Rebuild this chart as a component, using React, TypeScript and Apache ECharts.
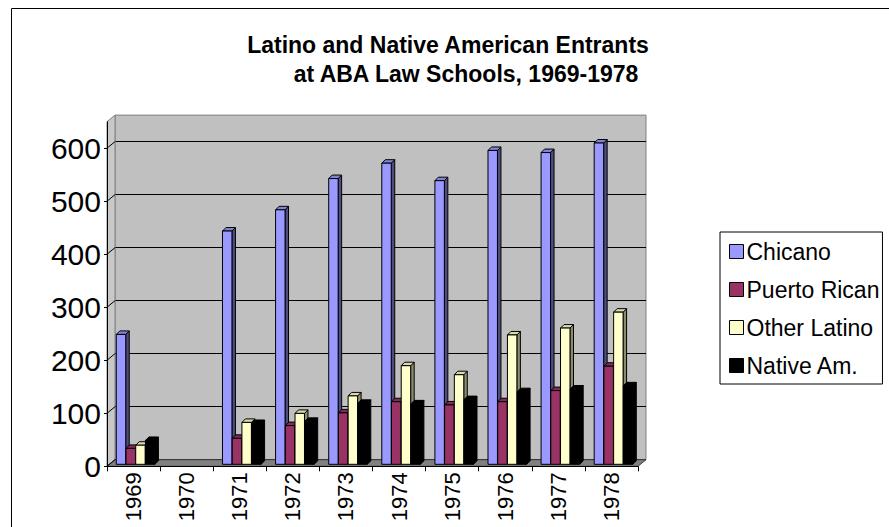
import React, { useEffect, useRef } from "react";
import * as echarts from "echarts";

// Entrants by year and group
const years = ["1969", "1970", "1971", "1972", "1973", "1974", "1975", "1976", "1977", "1978"];
const chicano = [245, null, 440, 480, 539, 568, 535, 592, 588, 606];
const puertoRican = [30, null, 49, 73, 97, 118, 112, 118, 139, 185];
const otherLatino = [36, null, 79, 96, 129, 186, 169, 244, 257, 287];
const nativeAm = [45, null, 77, 81, 115, 114, 122, 137, 142, 148];

const seriesNames = ["Chicano", "Puerto Rican", "Other Latino", "Native Am."];
const seriesValues = [chicano, puertoRican, otherLatino, nativeAm];
const yTicks = [0, 100, 200, 300, 400, 500, 600];
const Y_MAX = 650;

const FONT = '"Liberation Sans", Arial, Helvetica, sans-serif';

const faceColors = ["#9999ff", "#993366", "#ffffcc", "#000000"];
const topColors = ["#8282d9", "#822b57", "#d9d9ad", "#000000"];
const sideColors = ["#4d4d80", "#4d1a33", "#8c8c70", "#000000"];

// plot geometry: front axes plane and the back wall behind it
const FRONT = { left: 107, top: 121.7, width: 531, height: 344.6 };
const DX = 8;
const DY = -6.6;
const BACK = { left: FRONT.left + DX, top: FRONT.top + DY, width: FRONT.width, height: FRONT.height };

const frontY = (v: number) => FRONT.top + FRONT.height * (1 - v / Y_MAX);
const backY = (v: number) => BACK.top + BACK.height * (1 - v / Y_MAX);

const BAR_DEPTH = 3.5;

function makeRenderer(si: number) {
  return (params: any, api: any) => {
    const v = api.value(1);
    if (v == null || isNaN(v)) return null;
    const cat = api.value(0);
    const base = api.coord([cat, 0]);
    const top = api.coord([cat, v]);
    const cw = api.size([1, 0])[0];
    const w = cw * 0.178;
    const x = base[0] - cw * 0.325 + si * cw * 0.183;
    const yb = base[1] - 2;
    const yt = top[1] - 2;
    const d = BAR_DEPTH;
    const stroke = { stroke: "#000", lineWidth: 1 };
    return {
      type: "group",
      children: [
        {
          type: "polygon",
          shape: { points: [[x + w, yt], [x + w + d, yt - d], [x + w + d, yb - d], [x + w, yb]] },
          style: { fill: sideColors[si], ...stroke },
        },
        {
          type: "polygon",
          shape: { points: [[x, yt], [x + d, yt - d], [x + w + d, yt - d], [x + w, yt]] },
          style: { fill: topColors[si], ...stroke },
        },
        {
          type: "rect",
          shape: { x, y: yt, width: w, height: yb - yt },
          style: { fill: faceColors[si], ...stroke },
        },
      ],
    };
  };
}

export default function App() {
  const ref = useRef<HTMLDivElement>(null);

  useEffect(() => {
    if (!ref.current) return;
    const chart = echarts.init(ref.current, undefined, { renderer: "svg" });

    const connectors = yTicks.map((t) => ({
      type: "line",
      z: 2,
      shape: { x1: FRONT.left, y1: frontY(t), x2: BACK.left, y2: backY(t) },
      style: { stroke: "#000", lineWidth: 1 },
    }));

    const frontBottom = FRONT.top + FRONT.height;
    const backBottom = BACK.top + BACK.height;

    chart.setOption({
      animation: false,
      backgroundColor: "#ffffff",
      textStyle: { fontFamily: FONT },
      grid: [
        { left: FRONT.left, top: FRONT.top, width: FRONT.width, height: FRONT.height, show: false, z: 3 },
        {
          left: BACK.left,
          top: BACK.top,
          width: BACK.width,
          height: BACK.height,
          show: true,
          backgroundColor: "#c0c0c0",
          borderColor: "#808080",
          borderWidth: 1,
          z: 0,
        },
      ],
      xAxis: [
        {
          type: "category",
          gridIndex: 0,
          data: years,
          z: 4,
          axisLine: { show: true, lineStyle: { color: "#000", width: 1 } },
          axisTick: { show: true, alignWithLabel: false, length: 5, lineStyle: { color: "#000" } },
          axisLabel: { rotate: 90, fontSize: 22, color: "#000", margin: 6, fontFamily: FONT },
          splitLine: { show: false },
        },
        { type: "category", gridIndex: 1, data: years, show: false },
      ],
      yAxis: [
        {
          type: "value",
          gridIndex: 0,
          min: 0,
          max: Y_MAX,
          interval: 100,
          z: 4,
          axisLine: { show: true, lineStyle: { color: "#000", width: 1 } },
          axisTick: { show: true, length: 3, customValues: yTicks, lineStyle: { color: "#000" } },
          axisLabel: {
            fontSize: 30,
            color: "#000",
            margin: 6,
            fontFamily: FONT,
            customValues: yTicks,
            padding: [9, 0, 0, 0],
          },
          splitLine: { show: false },
        },
        {
          type: "value",
          gridIndex: 1,
          min: 0,
          max: Y_MAX,
          interval: 100,
          axisLine: { show: false },
          axisTick: { show: false },
          axisLabel: { show: false },
          splitLine: { show: true, showMaxLine: false, lineStyle: { color: "#000", width: 1 } },
        },
      ],
      legend: {
        orient: "vertical",
        left: 720,
        top: 232,
        data: seriesNames,
        icon: "rect",
        itemWidth: 14,
        itemHeight: 14,
        itemGap: 15,
        padding: [8, 3, 7, 9],
        borderColor: "#000",
        borderWidth: 1,
        backgroundColor: "#fff",
        selectedMode: false,
        itemStyle: { borderColor: "#000", borderWidth: 1 },
        textStyle: { fontSize: 23, color: "#000", fontFamily: FONT, padding: [0, 0, 0, -2] },
      },
      graphic: [
        {
          type: "rect",
          z: 0,
          silent: true,
          shape: { x: 11.5, y: 8.5, width: 1000, height: 1000 },
          style: { fill: "none", stroke: "#000", lineWidth: 1 },
        },
        {
          type: "text",
          x: 448,
          y: 45,
          style: {
            text: "Latino and Native American Entrants",
            font: `bold 23px ${FONT}`,
            fill: "#000",
            textAlign: "center",
            textVerticalAlign: "middle",
          },
        },
        {
          type: "text",
          x: 466,
          y: 74,
          style: {
            text: "at ABA Law Schools, 1969-1978",
            font: `bold 23px ${FONT}`,
            fill: "#000",
            textAlign: "center",
            textVerticalAlign: "middle",
          },
        },
        // left side wall
        {
          type: "polygon",
          z: 1,
          shape: {
            points: [
              [FRONT.left, FRONT.top],
              [BACK.left, BACK.top],
              [BACK.left, backBottom],
              [FRONT.left, frontBottom],
            ],
          },
          style: { fill: "#c8c8c8", stroke: "#808080", lineWidth: 1 },
        },
        // floor
        {
          type: "polygon",
          z: 1,
          shape: {
            points: [
              [FRONT.left, frontBottom],
              [FRONT.left + FRONT.width, frontBottom],
              [BACK.left + BACK.width, backBottom],
              [BACK.left, backBottom],
            ],
          },
          style: { fill: "#808080", stroke: "#404040", lineWidth: 1 },
        },
        ...connectors,
      ],
      series: seriesNames.map((name, si) => ({
        name,
        type: "custom",
        xAxisIndex: 0,
        yAxisIndex: 0,
        z: 5,
        itemStyle: { color: faceColors[si], borderColor: "#000", borderWidth: 1 },
        encode: { x: 0, y: 1 },
        renderItem: makeRenderer(si),
        data: seriesValues[si]
          .map((v, i) => [i, v])
          .filter((d) => d[1] != null),
      })),
    });

    return () => chart.dispose();
  }, []);

  return (
    <div
      ref={ref}
      style={{ position: "fixed", left: 0, top: 0, width: 889, height: 527 }}
    />
  );
}
